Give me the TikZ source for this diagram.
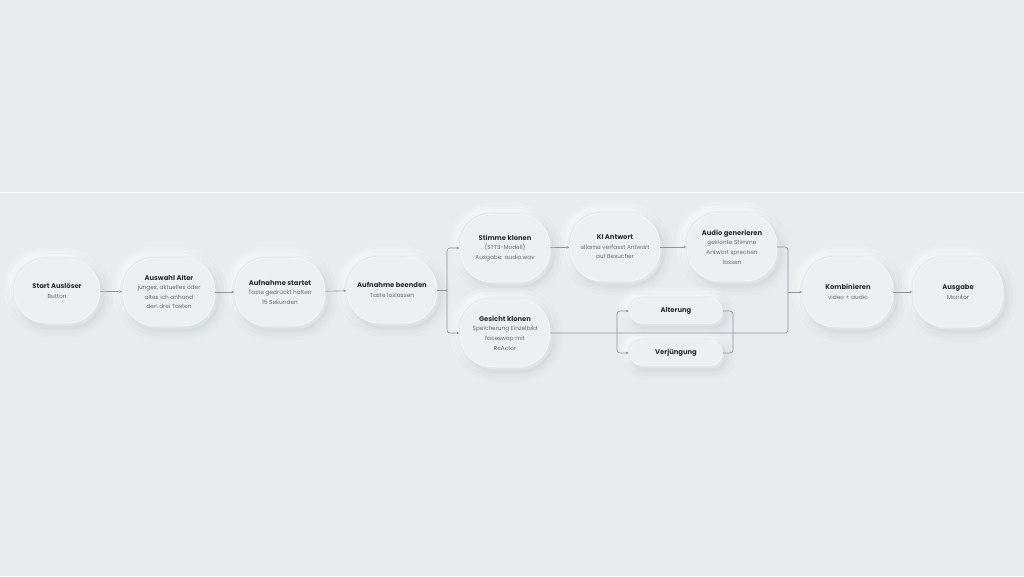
\documentclass[tikz,border=0pt]{standalone}
\usepackage{fontspec}
\setmainfont{Poppins}
\usetikzlibrary{arrows.meta}
\definecolor{bg}{HTML}{E8ECEF}
\definecolor{nodefill}{HTML}{EDF0F3}
\definecolor{shade}{HTML}{9AA4AE}
\definecolor{titlec}{HTML}{2A2E33}
\definecolor{descc}{HTML}{656B71}
\definecolor{linec}{HTML}{8E959B}
\newcommand\ttl[1]{{\color{titlec}\bfseries\fontsize{6.8}{9.6}\selectfont #1}}
\tikzset{
  neu/.style={fill=nodefill, draw=white, draw opacity=0.7, line width=0.4pt,
    align=center, text=descc, font=\fontsize{5.8}{9.6}\selectfont, inner sep=0pt,
    preaction={draw=white, draw opacity=0.18, line width=16pt, transform canvas={shift={(-3pt,3pt)}}},
    preaction={draw=white, draw opacity=0.25, line width=9pt, transform canvas={shift={(-3pt,3pt)}}},
    preaction={draw=white, draw opacity=0.35, line width=4pt, transform canvas={shift={(-3pt,3pt)}}},
    preaction={draw=shade, draw opacity=0.04, line width=20pt, transform canvas={shift={(3pt,-4pt)}}},
    preaction={draw=shade, draw opacity=0.05, line width=13pt, transform canvas={shift={(3pt,-4pt)}}},
    preaction={draw=shade, draw opacity=0.06, line width=7pt, transform canvas={shift={(3pt,-4pt)}}},
    preaction={draw=shade, draw opacity=0.08, line width=3pt, transform canvas={shift={(3pt,-4pt)}}}},
  flowbox/.style={neu, minimum width=90pt, minimum height=68pt, rounded corners=32pt},
  pill/.style={neu, minimum width=93pt, minimum height=25pt, rounded corners=12.5pt},
  conn/.style={draw=linec, line width=0.6pt, rounded corners=3pt},
  arr/.style={conn, -{Stealth[length=3pt,width=2.6pt]}, shorten >=0.5pt}
}
\begin{document}
\begin{tikzpicture}[x=1pt,y=-1pt]
\fill[bg] (0,0) rectangle (1024,576);
\useasboundingbox (0,0) rectangle (1024,576);
\draw[white, line width=0.8pt] (0,192) -- (1024,192);

\node[flowbox, minimum width=86pt, minimum height=64pt] (start) at (57,291) {\ttl{Start Auslöser}\\Button};
\node[flowbox, minimum width=92pt] (auswahl) at (169,292) {\ttl{Auswahl Alter}\\junges, aktuelles oder\\altes ich anhand\\den drei Tasten};
\node[flowbox] (startet) at (280,292) {\ttl{Aufnahme startet}\\Taste gedrückt halten\\15 Sekunden};
\node[flowbox, minimum height=66pt] (beenden) at (392,290) {\ttl{Aufnahme beenden}\\Taste loslassen};
\node[flowbox] (stimme) at (505,248) {\ttl{Stimme klonen}\\(STTS-Modell)\\Ausgabe: audio.wav};
\node[flowbox] (gesicht) at (505,333) {\ttl{Gesicht klonen}\\Speicherung Einzelbild\\faceswap mit\\ReActor};
\node[flowbox] (ki) at (615,247) {\ttl{KI Antwort}\\ollama verfasst Antwort\\auf Besucher};
\node[flowbox] (audio) at (732,247) {\ttl{Audio generieren}\\geklonte Stimme\\Antwort sprechen\\lassen};
\node[flowbox, minimum height=70pt] (kombi) at (848,292) {\ttl{Kombinieren}\\video + audio};
\node[flowbox, minimum height=70pt] (ausgabe) at (958,292) {\ttl{Ausgabe}\\Monitor};
\node[pill] (alter) at (676,311) {\ttl{Alterung}};
\node[pill] (verj) at (676,353) {\ttl{Verjüngung}};

\draw[arr] (start) -- (auswahl);
\draw[arr] (auswahl) -- (startet);
\draw[arr] (startet) -- (beenden);
\draw[conn] (beenden.east) -- (447,290) coordinate (br);
\draw[arr] (br) |- (stimme.west);
\draw[arr] (br) |- (gesicht.west);
\draw[arr] (stimme) -- (ki);
\draw[arr] (ki) -- (audio);
\draw[conn] (audio.east) -| (788,333) -- (gesicht.east);
\coordinate (mj) at (788,292);
\draw[arr] (mj) -- (kombi.west);
\draw[arr] (kombi) -- (ausgabe);
\coordinate (lb) at (617,333);
\draw[arr] (lb) |- (alter.west);
\draw[arr] (lb) |- (verj.west);
\draw[conn] (alter.east) -| (733,333) |- (verj.east);
\end{tikzpicture}
\end{document}
